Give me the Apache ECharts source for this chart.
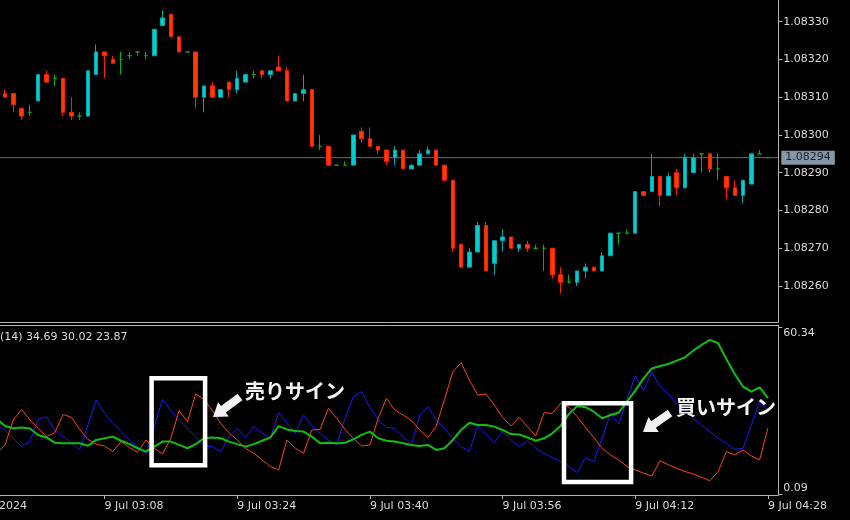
<!DOCTYPE html>
<html><head><meta charset="utf-8">
<script src="https://cdn.jsdelivr.net/npm/echarts@6/dist/echarts.min.js"></script>
<style>html,body{margin:0;padding:0;background:#000;}#c{width:850px;height:520px;}</style>
</head><body><div id="c"></div>
<script>
const times = ['02:56','02:57','02:58','02:59','03:00','03:01','03:02','03:03','03:04','03:05','03:06','03:07','03:08','03:09','03:10','03:11','03:12','03:13','03:14','03:15','03:16','03:17','03:18','03:19','03:20','03:21','03:22','03:23','03:24','03:25','03:26','03:27','03:28','03:29','03:30','03:31','03:32','03:33','03:34','03:35','03:36','03:37','03:38','03:39','03:40','03:41','03:42','03:43','03:44','03:45','03:46','03:47','03:48','03:49','03:50','03:51','03:52','03:53','03:54','03:55','03:56','03:57','03:58','03:59','04:00','04:01','04:02','04:03','04:04','04:05','04:06','04:07','04:08','04:09','04:10','04:11','04:12','04:13','04:14','04:15','04:16','04:17','04:18','04:19','04:20','04:21','04:22','04:23','04:24','04:25','04:26','04:27','04:28'];
const open = [1.08311,1.08311,1.08307,1.08306,1.08309,1.08316,1.08315,1.08315,1.08306,1.08305,1.08305,1.08316,1.08322,1.08320,1.08320,1.08321,1.08322,1.08321,1.08321,1.08329,1.08332,1.08326,1.08322,1.08322,1.08310,1.08313,1.08310,1.08314,1.08312,1.08314,1.08316,1.08317,1.08316,1.08318,1.08317,1.08309,1.08311,1.08312,1.08297,1.08297,1.08292,1.08292,1.08292,1.08301,1.08299,1.08297,1.08296,1.08294,1.08296,1.08291,1.08292,1.08295,1.08296,1.08292,1.08288,1.08271,1.08265,1.08269,1.08276,1.08266,1.08272,1.08273,1.08270,1.08271,1.08270,1.08270,1.08270,1.08263,1.08261,1.08261,1.08264,1.08265,1.08264,1.08268,1.08274,1.08274,1.08274,1.08285,1.08285,1.08289,1.08284,1.08290,1.08286,1.08290,1.08295,1.08295,1.08291,1.08289,1.08286,1.08284,1.08287,1.08295,1.08294];
const close = [1.08310,1.08308,1.08305,1.08306,1.08316,1.08314,1.08315,1.08306,1.08305,1.08305,1.08317,1.08322,1.08321,1.08319,1.08320,1.08321,1.08322,1.08321,1.08328,1.08331,1.08326,1.08322,1.08322,1.08310,1.08313,1.08310,1.08312,1.08312,1.08315,1.08316,1.08316,1.08316,1.08317,1.08317,1.08309,1.08311,1.08312,1.08297,1.08297,1.08292,1.08292,1.08292,1.08300,1.08299,1.08297,1.08296,1.08293,1.08296,1.08291,1.08292,1.08295,1.08296,1.08292,1.08288,1.08270,1.08265,1.08269,1.08276,1.08264,1.08272,1.08273,1.08270,1.08271,1.08270,1.08270,1.08270,1.08263,1.08261,1.08261,1.08264,1.08265,1.08264,1.08268,1.08274,1.08274,1.08274,1.08285,1.08284,1.08289,1.08284,1.08289,1.08286,1.08294,1.08294,1.08295,1.08291,1.08291,1.08286,1.08284,1.08288,1.08295,1.08295,1.08294];
const low = [1.08310,1.08306,1.08304,1.08305,1.08309,1.08314,1.08313,1.08305,1.08304,1.08304,1.08305,1.08316,1.08315,1.08319,1.08316,1.08320,1.08321,1.08320,1.08321,1.08329,1.08326,1.08322,1.08322,1.08307,1.08306,1.08310,1.08310,1.08310,1.08311,1.08314,1.08315,1.08315,1.08315,1.08317,1.08309,1.08309,1.08309,1.08297,1.08296,1.08292,1.08292,1.08292,1.08292,1.08298,1.08297,1.08295,1.08292,1.08292,1.08291,1.08291,1.08292,1.08295,1.08292,1.08288,1.08269,1.08265,1.08265,1.08269,1.08264,1.08263,1.08269,1.08270,1.08269,1.08269,1.08270,1.08264,1.08262,1.08258,1.08261,1.08260,1.08262,1.08264,1.08264,1.08268,1.08271,1.08274,1.08274,1.08284,1.08285,1.08281,1.08284,1.08284,1.08286,1.08290,1.08290,1.08290,1.08288,1.08283,1.08284,1.08282,1.08287,1.08295,1.08294];
const high = [1.08312,1.08311,1.08307,1.08308,1.08316,1.08317,1.08316,1.08315,1.08310,1.08306,1.08317,1.08324,1.08322,1.08321,1.08322,1.08322,1.08322,1.08322,1.08328,1.08333,1.08332,1.08326,1.08322,1.08322,1.08313,1.08314,1.08312,1.08314,1.08317,1.08316,1.08317,1.08317,1.08317,1.08321,1.08318,1.08311,1.08316,1.08312,1.08300,1.08297,1.08292,1.08293,1.08300,1.08302,1.08302,1.08297,1.08296,1.08297,1.08296,1.08292,1.08296,1.08297,1.08296,1.08292,1.08288,1.08271,1.08270,1.08277,1.08277,1.08272,1.08275,1.08273,1.08271,1.08272,1.08271,1.08271,1.08270,1.08265,1.08263,1.08264,1.08266,1.08265,1.08269,1.08274,1.08274,1.08275,1.08285,1.08285,1.08295,1.08289,1.08290,1.08291,1.08295,1.08295,1.08295,1.08295,1.08295,1.08289,1.08288,1.08288,1.08295,1.08296,1.08294];

const indicatorTimes = ['02:55'].concat(times);
const adx = [27.3,24.6,23.8,24.1,23.7,21.4,20.5,18.6,18.4,18.4,18.4,17.5,19.6,20.2,20.8,19.3,18.1,16.6,15.4,17.2,19.0,19.0,17.8,16.6,18.1,20.2,20.5,20.2,19.0,18.1,17.2,18.1,19.3,20.5,24.6,23.4,22.8,22.6,20.8,18.4,18.6,18.4,18.6,19.8,21.4,22.6,20.2,19.3,19.0,18.4,17.8,17.4,17.8,16.0,16.6,19.6,23.2,25.8,25.0,25.0,24.4,23.2,21.7,21.6,20.5,19.3,20.2,22.0,24.6,29.0,31.8,31.4,29.8,27.4,28.6,29.4,33.4,37.4,41.8,45.4,46.3,47.0,48.2,49.4,51.8,53.9,55.7,54.5,48.7,43.4,38.8,37.0,38.6,34.69];
const plusDI = [25.2,23.2,20.2,17.2,19.0,27.0,28.0,23.2,20.8,18.4,16.0,25.0,34.0,29.2,25.6,22.6,19.6,17.2,14.8,24.4,34.2,30.2,26.8,23.8,20.8,17.4,17.2,15.4,20.8,23.8,20.5,24.4,22.0,20.2,29.4,25.6,22.0,28.6,24.6,22.0,19.6,17.8,27.4,35.2,37.0,31.4,26.8,24.1,23.8,20.8,17.8,28.6,31.6,26.8,23.8,20.2,17.2,15.4,24.6,21.7,18.6,22.6,19.6,17.2,19.3,16.6,14.8,13.2,11.8,10.0,7.8,13.2,11.8,20.2,29.2,25.4,34.2,42.7,37.4,44.2,38.8,36.2,32.8,30.2,27.4,25.0,22.6,20.2,18.4,16.2,16.6,25.0,33.4,30.02];
const minusDI = [14.8,17.8,26.8,30.6,26.8,23.8,20.8,22.2,28.8,27.8,23.4,19.8,18.1,17.4,15.4,19.0,16.9,15.1,19.6,16.6,14.5,20.2,30.2,26.2,36.2,34.2,30.2,25.6,22.2,19.6,16.6,14.8,12.4,10.0,8.8,19.6,16.6,14.8,23.2,23.4,31.0,27.4,23.4,20.2,17.4,17.8,27.4,34.6,30.4,28.6,26.6,23.2,20.5,24.6,34.2,44.2,47.5,41.2,35.8,36.2,32.2,27.8,24.6,27.8,24.4,21.0,29.4,29.2,32.8,31.4,28.0,24.1,20.5,16.6,14.2,12.4,10.0,8.8,7.6,6.6,12.1,10.6,9.4,8.2,7.3,6.1,4.9,8.2,15.4,14.2,16.0,13.8,12.4,23.87];

const xTickTimes = ['02:52','03:08','03:24','03:40','03:56','04:12','04:28'];
const xTickLabels = ['9 Jul 2024','9 Jul 03:08','9 Jul 03:24','9 Jul 03:40','9 Jul 03:56','9 Jul 04:12','9 Jul 04:28'];
const priceTicks = [1.0826,1.0827,1.0828,1.0829,1.0830,1.0831,1.0832,1.0833];
const adxTicks = [0.09, 60.34];
const lastPrice = 1.08294;
const adxPeriod = 14;

const toMin = s => parseInt(s.slice(0,2),10)*60 + parseInt(s.slice(3),10);
const xTickMins = xTickTimes.map(toMin);
const GREEN = '#00b800';
const candleData = times.map((t,i) => {
  const item = { value: [toMin(t), open[i], close[i], low[i], high[i]] };
  if (open[i] === close[i]) item.itemStyle = { color: GREEN, color0: GREEN, borderColor: GREEN, borderColor0: GREEN };
  return item;
});
const lineData = arr => indicatorTimes.map((t,i) => [toMin(t), arr[i]]);

const XMIN = 171.418, XMAX = 269.25;
const FONT = 'DejaVu Sans';
const AX = '#b4b4b4', TXT = '#dcdcdc';

const chart = echarts.init(document.getElementById('c'), null, {renderer:'canvas'});
chart.setOption({
  backgroundColor: '#000000',
  animation: false,
  grid: [
    { left: -33, right: 71.7, top: 0, height: 322, outerBoundsMode: 'none', containLabel: false },
    { left: -33, right: 71.7, top: 325, height: 170, outerBoundsMode: 'none', containLabel: false }
  ],
  xAxis: [
    { type:'value', gridIndex:0, min:XMIN, max:XMAX, splitLine:{show:false},
      axisLine:{show:true, onZero:false, lineStyle:{color:AX}}, axisTick:{show:false}, axisLabel:{show:false} },
    { type:'value', gridIndex:1, min:XMIN, max:XMAX, splitLine:{show:false},
      axisLine:{show:true, onZero:false, lineStyle:{color:AX}},
      axisTick:{show:true, customValues:xTickMins, length:4, lineStyle:{color:AX}},
      axisLabel:{show:true, customValues:xTickMins, align:'left', margin:6, color:TXT, fontFamily:FONT, fontSize:11,
        formatter: v => { const k = xTickMins.indexOf(Math.round(v)); return k >= 0 ? xTickLabels[k] : ''; } } },
    { type:'value', gridIndex:1, position:'top', min:XMIN, max:XMAX, splitLine:{show:false},
      axisLine:{show:true, onZero:false, lineStyle:{color:AX}}, axisTick:{show:false}, axisLabel:{show:false} }
  ],
  yAxis: [
    { type:'value', gridIndex:0, position:'right', min:1.0825047, max:1.0833575, splitLine:{show:false},
      axisLine:{show:true, lineStyle:{color:AX}},
      axisTick:{show:true, customValues:priceTicks, length:4, lineStyle:{color:AX}},
      axisLabel:{customValues:priceTicks, margin:5, color:TXT, fontFamily:FONT, fontSize:11, formatter: v => v.toFixed(5)} },
    { type:'value', gridIndex:1, position:'right', min:-0.27, max:61.07, splitLine:{show:false},
      axisLine:{show:true, lineStyle:{color:AX}},
      axisTick:{show:true, customValues:adxTicks, length:4, lineStyle:{color:AX}},
      axisLabel:{customValues:adxTicks, margin:5, color:TXT, fontFamily:FONT, fontSize:11,
        formatter: v => v > 30 ? '{t|' + v.toFixed(2) + '}' : '{b|' + v.toFixed(2) + '}',
        rich: { t:{padding:[12,0,0,0], color:TXT, fontFamily:FONT, fontSize:11},
                b:{padding:[0,0,12,0], color:TXT, fontFamily:FONT, fontSize:11} } } }
  ],
  series: [
    { type:'line', name:'price', xAxisIndex:0, yAxisIndex:0, z:1, silent:true, showSymbol:false,
      data:[[XMIN, lastPrice],[XMAX, lastPrice]], lineStyle:{color:'#646e78', width:1},
      endLabel:{ show:true, distance:3, formatter: () => lastPrice.toFixed(5), color:'#18222c', backgroundColor:'#8796a6',
        padding:[2,4,1,4], fontFamily:FONT, fontSize:11 } },
    { type:'candlestick', xAxisIndex:0, yAxisIndex:0, z:3, data:candleData, barWidth:4,
      itemStyle:{ color:'#00ced1', color0:'#ff3c00', borderColor:'#00a8aa', borderColor0:'#ff1e00', borderColorDoji:GREEN, borderWidth:1 } },
    { type:'line', name:'+DI', xAxisIndex:1, yAxisIndex:1, data:lineData(plusDI), showSymbol:false, lineStyle:{color:'#1a1aff', width:1} },
    { type:'line', name:'-DI', xAxisIndex:1, yAxisIndex:1, data:lineData(minusDI), showSymbol:false, lineStyle:{color:'#ff4612', width:1} },
    { type:'line', name:'ADX', xAxisIndex:1, yAxisIndex:1, data:lineData(adx), showSymbol:false, lineStyle:{color:'#10c010', width:2} }
  ],
  graphic: [
    { type:'text', x:0, y:337, style:{ text:'(' + adxPeriod + ') ' + [adx[adx.length-1], plusDI[plusDI.length-1], minusDI[minusDI.length-1]].map(v=>v.toFixed(2)).join(' '),
      fill:TXT, font:'11px "DejaVu Sans"', verticalAlign:'middle' } },
    { type:'rect', z:100, shape:{x:151.6, y:378.3, width:53.5, height:87}, style:{fill:null, stroke:'#ffffff', lineWidth:4.5} },
    { type:'rect', z:100, shape:{x:564, y:403.3, width:67.1, height:78.8}, style:{fill:null, stroke:'#ffffff', lineWidth:4.5} },
    { type:'polygon', z:100, shape:{points:[[242.4,400.2],[225.8,412.5],[228.8,416.5],[213,417],[218.1,402.1],[221.0,406.1],[237.6,393.8]]}, style:{fill:'#f0f0f0'} },
    { type:'polygon', z:100, shape:{points:[[672.3,416.3],[655.9,427.8],[658.8,431.9],[643,432],[648.4,417.1],[651.3,421.2],[667.7,409.7]]}, style:{fill:'#f0f0f0'} },
    { type:'text', z:100, x:245, y:391, style:{ text:'売りサイン', fill:'#f5f5f5', font:'bold 20px "Noto Sans CJK JP"', verticalAlign:'middle' } },
    { type:'text', z:100, x:676, y:407, style:{ text:'買いサイン', fill:'#f5f5f5', font:'bold 20px "Noto Sans CJK JP"', verticalAlign:'middle' } }
  ]
});
</script>
</body></html>
